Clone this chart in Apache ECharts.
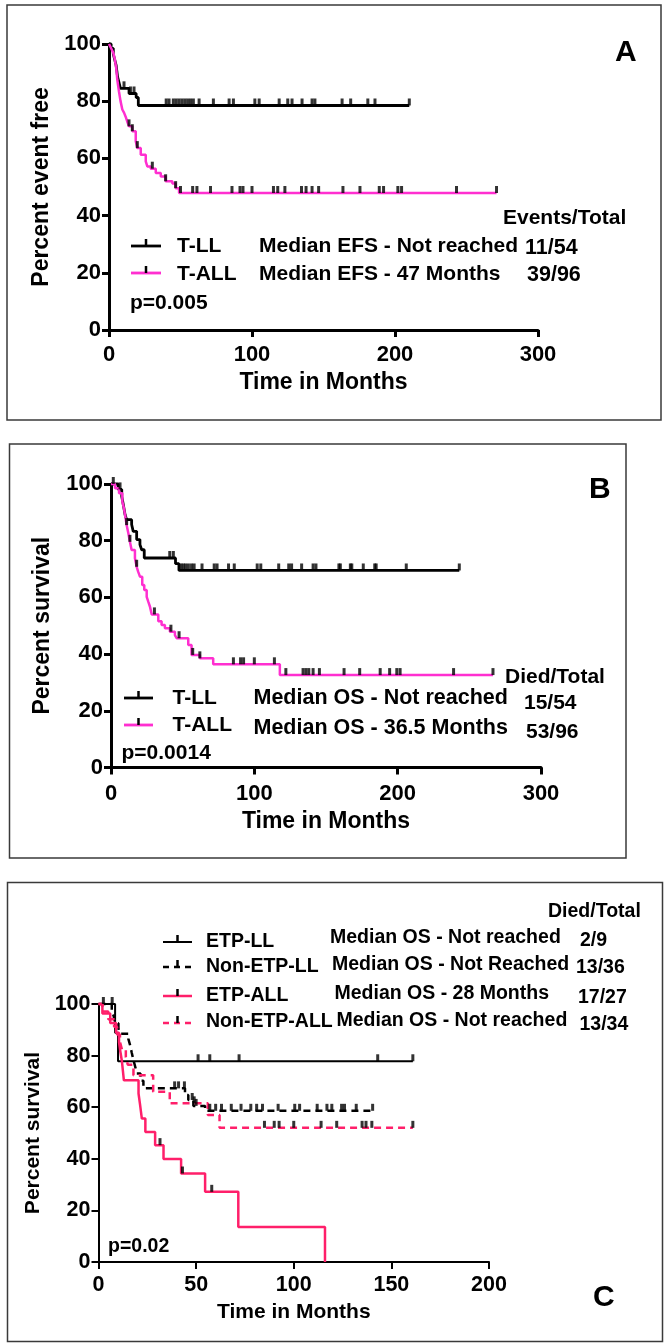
<!DOCTYPE html>
<html>
<head>
<meta charset="utf-8">
<script src="https://cdn.jsdelivr.net/npm/echarts@6/dist/echarts.min.js"></script>
<style>
html, body { margin: 0; padding: 0; background: #fff; }
#main { width: 668px; height: 1343px; }
</style>
</head>
<body>
<div id="main"></div>
<script>
// ---- Panel A : event free survival ----
var aLLTimes = [0, 1.5, 3, 4, 5, 5.5, 6, 7, 8, 14, 19, 20.5];
var aLLSurv  = [100, 98.5, 96.5, 94.5, 92.5, 90.5, 88.5, 86.5, 84.5, 82.7, 81.3, 78.5];
var aLLEnd = 210;
var aLLCens = [10.5, 15, 17.5, 40, 42, 45, 47, 49, 51, 53, 55, 57, 59, 63, 73, 84, 87, 102, 105, 119, 125, 128, 135, 142, 144, 163, 169, 181, 186, 210];

var aALLTimes = [0, 1, 2, 3, 4, 5, 5.8, 7, 8, 9.3, 10.5, 11.7, 13, 14, 16.3, 18.7, 19.8, 22.2, 25.7, 26.8, 29.2, 32.7, 36.2, 39.6, 44.3, 46.6, 49];
var aALLSurv  = [100, 99, 98, 96.9, 94.8, 91.7, 87.5, 83.3, 80.2, 77.1, 76, 74.5, 72.5, 71.2, 69.5, 66, 63.6, 61.3, 59, 57.2, 56.4, 54.9, 53.7, 52, 51.2, 49.6, 47.9];
var aALLEnd = 271;
var aALLCens = [14, 16.3, 19.8, 30.3, 39.6, 46.6, 50, 58.5, 61.5, 71, 86, 91.6, 93.7, 100, 115, 118, 123, 134.6, 137.8, 142, 146.6, 163.6, 175.5, 189, 192, 202, 204.6, 243, 271];

// ---- Panel B : overall survival ----
var bLLTimes = [0, 5, 7.5, 8.6, 9.8, 10.9, 14.4, 15.5, 17.9, 20.2, 21.4, 23.2, 45, 47.4];
var bLLSurv  = [100, 98.1, 95.6, 92.7, 89.2, 87.4, 85.7, 83.3, 80.4, 78.6, 76.8, 73.9, 71.9, 69.5];
var bLLEnd = 243;
var bLLCens = [1.6, 6.3, 41, 43.5, 48.8, 50.4, 52, 54, 56.2, 58, 63.5, 72, 74, 82, 86, 102, 104.5, 117, 124, 126, 133, 141, 143, 159, 160, 167, 168, 176, 184, 185, 206, 243];

var bALLTimes = [0, 2.8, 5.6, 7.9, 9, 9.8, 10.9, 12.1, 13.2, 14.4, 16.7, 17.9, 19, 20.2, 21.8, 23.2, 24.9, 26, 27.2, 28.4, 33, 35.3, 37.6, 41.1, 44.6, 45.8, 53.9, 56.2, 62, 71.3, 117.8];
var bALLSurv  = [100, 98.5, 96.7, 93.8, 91.5, 89.1, 85.5, 82.6, 79.6, 76.7, 73.8, 70.8, 69, 67.3, 64.4, 62.6, 60.2, 58.5, 56.7, 54, 51.6, 50.3, 49.1, 47.9, 46.7, 45.6, 43.2, 39.7, 38.5, 36.4, 32.6];
var bALLEnd = 266.5;
var bALLCens = [10.9, 13.2, 17.9, 30.3, 41.8, 47.5, 57, 62, 85.4, 90.4, 92.5, 100, 114, 122, 134, 136, 138, 141, 145.4, 162.6, 173.5, 187.8, 194.4, 199.4, 201.7, 239, 266.5];

// ---- Panel C : ETP subgroups ----
var cEtpLLTimes = [0, 8.5, 10];
var cEtpLLSurv  = [100, 88.9, 77.8];
var cEtpLLEnd = 161;
var cEtpLLCens = [2.5, 7, 51, 57, 72, 143, 161];

var cNonLLTimes = [0, 6.8, 7.7, 8.5, 10.2, 11.1, 15.3, 16.2, 17, 17.9, 18.8, 19.6, 21.5, 23, 44.3, 46, 48.6, 54.6];
var cNonLLSurv  = [100, 97.5, 95.5, 92.5, 90.5, 88.5, 86.5, 84, 81.2, 78.3, 75.7, 73.1, 70.3, 67.3, 64.7, 62.8, 60.5, 58.6];
var cNonLLEnd = 140.4;
var cNonLLCens = [39, 41, 44, 48, 50, 57, 60, 63, 68, 73, 78, 81, 84, 92, 100.5, 103, 112, 117, 119.5, 124.5, 126, 132, 140.4];

var cEtpALLTimes = [0, 2, 6, 9, 10.5, 11.2, 12, 12.5, 13, 20.5, 21.3, 22.2, 24, 29, 33.3, 42.3, 54.6, 71.6, 116];
var cEtpALLSurv  = [100, 96.3, 92.6, 88.9, 85.2, 81.5, 77.8, 74.1, 70.4, 65.3, 60.9, 55.6, 50.4, 45.3, 39.9, 34.3, 27.2, 13.6, 0];
var cEtpALLEnd = 116;
var cEtpALLCens = [31.5, 43, 58];

var cNonALLTimes = [0, 2, 5, 8, 9.5, 11, 12, 14, 15, 17.9, 28, 36.5, 56, 62];
var cNonALLSurv  = [100, 97.1, 94.1, 91.2, 88.2, 85.3, 82.4, 79.4, 76.5, 72.4, 66, 61.5, 57, 52];
var cNonALLEnd = 161;
var cNonALLCens = [49, 85, 90, 92.5, 100, 114, 122, 135, 137, 140, 161];

var yTicks = [0, 20, 40, 60, 80, 100];

var FONT = '"Liberation Sans", Arial, sans-serif';
var MAGENTA = '#ff2fd0';
var RED = '#ff1f6a';

// step curve data
function kmLine(times, surv, end) {
    var d = [];
    for (var i = 0; i < times.length; i++) d.push([times[i], surv[i]]);
    d.push([end, surv[surv.length - 1]]);
    return d;
}
// value of the step curve at time t (for the censor marks)
function survAt(times, surv, t) {
    var v = surv[0];
    for (var i = 0; i < times.length; i++) { if (times[i] <= t) v = surv[i]; }
    return v;
}
function censData(times, surv, cens) {
    return cens.map(function (t) { return [t, survAt(times, surv, t)]; });
}

function lineSeries(idx, data, color, width, dash) {
    return {
        type: 'line', xAxisIndex: idx, yAxisIndex: idx,
        data: data, step: 'end', showSymbol: false, symbol: 'none',
        clip: false, z: 2, silent: true,
        lineStyle: { color: color, width: width, type: dash || 'solid' }
    };
}
function censSeries(idx, data) {
    return {
        type: 'scatter', xAxisIndex: idx, yAxisIndex: idx,
        data: data, symbol: 'rect', symbolSize: [3, 7], symbolOffset: [0, -3.5],
        itemStyle: { color: '#000' }, clip: false, z: 3, silent: true
    };
}

function xAx(idx, max, interval, gap, margin, fs, nfs, lw) {
    return {
        gridIndex: idx, type: 'value', min: 0, max: max, interval: interval,
        name: 'Time in Months', nameLocation: 'middle', nameGap: gap,
        nameTextStyle: { fontFamily: FONT, fontWeight: 'bold', fontSize: nfs, color: '#000' },
        axisLine: { show: true, lineStyle: { color: '#000', width: lw } },
        axisTick: { show: true, length: 7, lineStyle: { color: '#000', width: lw } },
        axisLabel: { margin: margin, fontFamily: FONT, fontWeight: 'bold', fontSize: fs, color: '#000' },
        splitLine: { show: false }
    };
}
function yAx(idx, name, gap, fs, nfs, lw) {
    return {
        gridIndex: idx, type: 'value', min: yTicks[0], max: yTicks[yTicks.length - 1], interval: 20,
        name: name, nameLocation: 'middle', nameGap: gap,
        nameTextStyle: { fontFamily: FONT, fontWeight: 'bold', fontSize: nfs, color: '#000' },
        axisLine: { show: true, lineStyle: { color: '#000', width: lw } },
        axisTick: { show: true, length: 7, lineStyle: { color: '#000', width: lw } },
        axisLabel: { margin: 8, fontFamily: FONT, fontWeight: 'bold', fontSize: fs, color: '#000' },
        splitLine: { show: false }
    };
}

// graphic helpers (frames, legend keys, notes)
function txt(x, y, s, size, align) {
    return { type: 'text', x: x, y: y, silent: true,
        style: { text: s, font: 'bold ' + size + 'px ' + FONT, fill: '#000', align: align || 'left', verticalAlign: 'middle' } };
}
function key(x1, x2, y, color, width, dash) {
    var cx = (x1 + x2) / 2;
    return [
        { type: 'line', silent: true, shape: { x1: x1, y1: y, x2: x2, y2: y },
          style: { stroke: color, lineWidth: width, lineDash: dash || null } },
        { type: 'line', silent: true, shape: { x1: cx, y1: y, x2: cx, y2: y - 7 },
          style: { stroke: '#000', lineWidth: 2.5 } }
    ];
}
function frame(x, y, w, h) {
    return { type: 'rect', silent: true, shape: { x: x, y: y, width: w, height: h },
        style: { fill: null, stroke: '#3a3a3a', lineWidth: 1.5 } };
}

var graphics = [
    frame(7, 5, 654, 415),
    frame(9.5, 444, 616.5, 414),
    frame(7.5, 882.5, 655, 459),

    txt(615, 53, 'A', 30),
    txt(503, 218, 'Events/Total', 21),
    txt(177, 246, 'T-LL', 21),
    txt(259, 246, 'Median EFS - Not reached', 21),
    txt(525, 248, '11/54', 21.5),
    txt(177, 274, 'T-ALL', 21),
    txt(259, 274, 'Median EFS - 47 Months', 21),
    txt(527, 275, '39/96', 21.5),
    txt(130, 303, 'p=0.005', 21),

    txt(589, 490, 'B', 30),
    txt(505, 677, 'Died/Total', 21),
    txt(172.5, 698, 'T-LL', 21),
    txt(253.5, 698, 'Median OS - Not reached', 21.5),
    txt(524, 703, '15/54', 21),
    txt(172.5, 725, 'T-ALL', 21),
    txt(253.5, 728, 'Median OS - 36.5 Months', 21.5),
    txt(526, 732, '53/96', 21),
    txt(121.5, 753, 'p=0.0014', 21),

    txt(593, 1298, 'C', 30),
    txt(548, 912, 'Died/Total', 19.5),
    txt(206, 942, 'ETP-LL', 19.5),
    txt(330, 938, 'Median OS - Not reached', 19.5),
    txt(580, 941, '2/9', 19.5),
    txt(206, 967, 'Non-ETP-LL', 19.5),
    txt(332, 965, 'Median OS - Not Reached', 19.5),
    txt(576, 968, '13/36', 19.5),
    txt(206, 996, 'ETP-ALL', 19.5),
    txt(334.5, 994, 'Median OS - 28 Months', 19.5),
    txt(578, 998, '17/27', 19.5),
    txt(206, 1022, 'Non-ETP-ALL', 19.5),
    txt(336.5, 1021, 'Median OS - Not reached', 19.5),
    txt(579.5, 1025, '13/34', 19.5),
    txt(108, 1247, 'p=0.02', 19.5)
];
graphics = graphics
    .concat(key(131, 161, 246, '#000', 2.8))
    .concat(key(131, 161, 273, MAGENTA, 2.8))
    .concat(key(124, 153, 698, '#000', 2.8))
    .concat(key(124, 153, 725, MAGENTA, 2.8))
    .concat(key(163, 192, 942, '#000', 2))
    .concat(key(163, 192, 967, '#000', 2.5, [6, 5]))
    .concat(key(163, 192, 996, RED, 2.5))
    .concat(key(163, 192, 1023, RED, 2.5, [6, 5]));

var option = {
    animation: false,
    backgroundColor: '#fff',
    grid: [
        { left: 109, top: 44, width: 429, height: 286 },
        { left: 111, top: 484, width: 430, height: 283.5 },
        { left: 98.5, top: 1004, width: 390.5, height: 258 }
    ],
    xAxis: [
        xAx(0, 300, 100, 41, 14, 22, 23, 3),
        xAx(1, 300, 100, 43, 15, 22, 23, 3),
        xAx(2, 200, 50, 40, 12, 21.5, 21, 2)
    ],
    yAxis: [
        yAx(0, 'Percent event free', 55, 22, 23, 3),
        yAx(1, 'Percent survival', 57, 22, 23, 3),
        yAx(2, 'Percent survival', 52, 21.5, 21, 2)
    ],
    graphic: graphics,
    series: [
        lineSeries(0, kmLine(aLLTimes, aLLSurv, aLLEnd), '#000', 2.8),
        lineSeries(0, kmLine(aALLTimes, aALLSurv, aALLEnd), MAGENTA, 2.5),
        censSeries(0, censData(aLLTimes, aLLSurv, aLLCens)),
        censSeries(0, censData(aALLTimes, aALLSurv, aALLCens)),

        lineSeries(1, kmLine(bLLTimes, bLLSurv, bLLEnd), '#000', 2.8),
        lineSeries(1, kmLine(bALLTimes, bALLSurv, bALLEnd), MAGENTA, 2.5),
        censSeries(1, censData(bLLTimes, bLLSurv, bLLCens)),
        censSeries(1, censData(bALLTimes, bALLSurv, bALLCens)),

        lineSeries(2, kmLine(cEtpLLTimes, cEtpLLSurv, cEtpLLEnd), '#000', 2),
        lineSeries(2, kmLine(cNonLLTimes, cNonLLSurv, cNonLLEnd), '#000', 2.5, [7, 5]),
        lineSeries(2, kmLine(cEtpALLTimes, cEtpALLSurv, cEtpALLEnd), RED, 2.5),
        lineSeries(2, kmLine(cNonALLTimes, cNonALLSurv, cNonALLEnd), RED, 2.5, [7, 5]),
        censSeries(2, censData(cEtpLLTimes, cEtpLLSurv, cEtpLLCens)),
        censSeries(2, censData(cNonLLTimes, cNonLLSurv, cNonLLCens)),
        censSeries(2, censData(cEtpALLTimes, cEtpALLSurv, cEtpALLCens)),
        censSeries(2, censData(cNonALLTimes, cNonALLSurv, cNonALLCens))
    ]
};

var myChart = echarts.init(document.getElementById('main'), null, { renderer: 'canvas' });
myChart.setOption(option);
</script>
</body>
</html>
